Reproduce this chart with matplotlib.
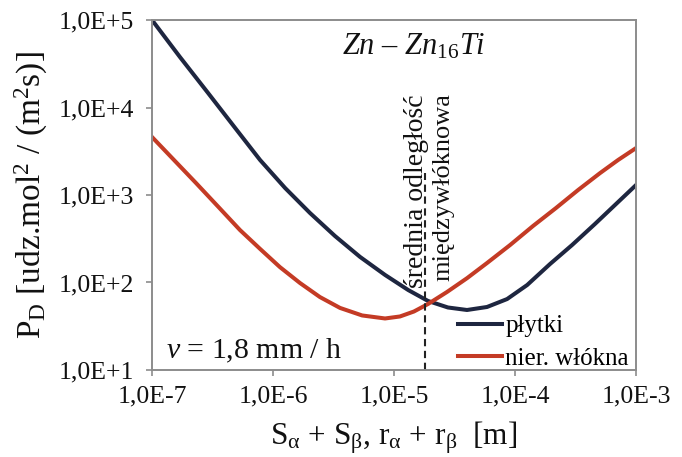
import matplotlib
matplotlib.use('Agg')
import matplotlib.pyplot as plt
from matplotlib.ticker import FixedLocator, FixedFormatter, NullLocator

plt.rcParams['font.family'] = ['Liberation Serif', 'DejaVu Serif']
plt.rcParams['mathtext.fontset'] = 'custom'
plt.rcParams['mathtext.rm'] = 'Liberation Serif'
plt.rcParams['mathtext.it'] = 'Liberation Serif:italic'
plt.rcParams['mathtext.bf'] = 'Liberation Serif:bold'

# dane
x_plytki = [1.0e-7, 1.70e-7, 2.90e-7, 4.94e-7, 7.82e-7, 1.26e-6, 2.02e-6, 3.25e-6, 5.24e-6,
            8.43e-6, 1.31e-5, 1.91e-5, 2.79e-5, 4.01e-5, 5.87e-5, 8.6e-5, 1.26e-4,
            1.95e-4, 2.96e-4, 4.58e-4, 6.70e-4, 1.0e-3]
y_plytki = [1.0e5, 3.78e4, 1.47e4, 5.68e3, 2.51e3, 1.20e3, 623, 340, 196,
            122, 82, 61.5, 51.8, 48.5, 52.5, 64.7, 93.6,
            163, 268, 467, 769, 1.30e3]

x_wlokna = [1.0e-7, 1.52e-7, 2.31e-7, 3.51e-7, 5.33e-7, 7.82e-7, 1.14e-6, 1.67e-6, 2.44e-6,
            3.58e-6, 5.45e-6, 8.43e-6, 1.12e-5, 1.46e-5, 1.91e-5, 2.74e-5, 4.01e-5,
            5.87e-5, 9.1e-5, 1.41e-4, 2.18e-4, 3.32e-4, 5.04e-4, 7.1e-4, 1.0e-3]
y_wlokna = [4.60e3, 2.51e3, 1.37e3, 739, 398, 242, 150, 98.7, 68.2,
            51.2, 42.0, 38.8, 40.9, 46.6, 56.8, 77.9, 112,
            167, 268, 443, 710, 1.14e3, 1.78e3, 2.51e3, 3.44e3]

dist_x = 1.8e-5      # średnia odległość międzywłóknowa
dist_top = 1.8e3

xticks = [1e-7, 1e-6, 1e-5, 1e-4, 1e-3]
xtick_labels = ['1,0E-7', '1,0E-6', '1,0E-5', '1,0E-4', '1,0E-3']
yticks = [1e1, 1e2, 1e3, 1e4, 1e5]
ytick_labels = ['1,0E+1', '1,0E+2', '1,0E+3', '1,0E+4', '1,0E+5']

navy = '#1e2640'
red = '#c43b25'
grey = '#8c8c8c'
ink = '#111111'

fig = plt.figure(figsize=(6.82, 4.57), dpi=100)
ax = fig.add_axes([0.2229, 0.1904, 0.7097, 0.7658])

ax.plot(x_plytki, y_plytki, color=navy, lw=2.9, label='płytki')
ax.plot(x_wlokna, y_wlokna, color=red, lw=2.9, label='nier. włókna')
ax.plot([dist_x, dist_x], [yticks[0], dist_top], color='#222222', lw=1.5, ls=(0, (3.5, 2.2)))

ax.set_xscale('log')
ax.set_yscale('log')
ax.set_xlim(xticks[0], xticks[-1])
ax.set_ylim(yticks[0], yticks[-1])

ax.xaxis.set_major_locator(FixedLocator(xticks))
ax.xaxis.set_major_formatter(FixedFormatter(xtick_labels))
ax.yaxis.set_major_locator(FixedLocator(yticks))
ax.yaxis.set_major_formatter(FixedFormatter(ytick_labels))
ax.xaxis.set_minor_locator(NullLocator())
ax.yaxis.set_minor_locator(NullLocator())

for s in ax.spines.values():
    s.set_color(grey)
    s.set_linewidth(1.4)
ax.tick_params(axis='both', which='major', direction='out', length=4, width=1.2,
               color=grey, labelsize=18.5, labelcolor=ink)
ax.tick_params(axis='x', pad=7)
ax.tick_params(axis='y', pad=9)

ax.set_xlabel(r'S$_\mathrm{α}$ + S$_\mathrm{β}$, r$_\mathrm{α}$ + r$_\mathrm{β}$  [m]',
              fontsize=22.5, labelpad=9, color=ink)
ax.set_ylabel(r'P$_\mathrm{D}$ [udz.mol$^\mathrm{2}$ / (m$^\mathrm{2}$s)]',
              fontsize=24, labelpad=6, color=ink)

ax.text(0.54, 0.925, r'$Zn$ – $Zn_{16}Ti$', transform=ax.transAxes,
        ha='center', va='center', fontsize=22, color=ink)
ax.text(0.028, 0.055, r'$v$ = 1,8 mm / h', transform=ax.transAxes,
        ha='left', va='center', fontsize=21.5, color=ink)

ax.text(0.546, 0.787, 'średnia odległość', transform=ax.transAxes, rotation=90,
        ha='center', va='top', fontsize=20, color=ink)
ax.text(0.602, 0.792, 'międzywłóknowa', transform=ax.transAxes, rotation=90,
        ha='center', va='top', fontsize=19, color=ink)

ax.legend(loc='lower left', bbox_to_anchor=(0.632, 0.0), frameon=False, fontsize=18,
          handlelength=1.75, handletextpad=0.15, borderpad=0, borderaxespad=0,
          labelspacing=0.4)

fig.savefig('out.png', dpi=100)
